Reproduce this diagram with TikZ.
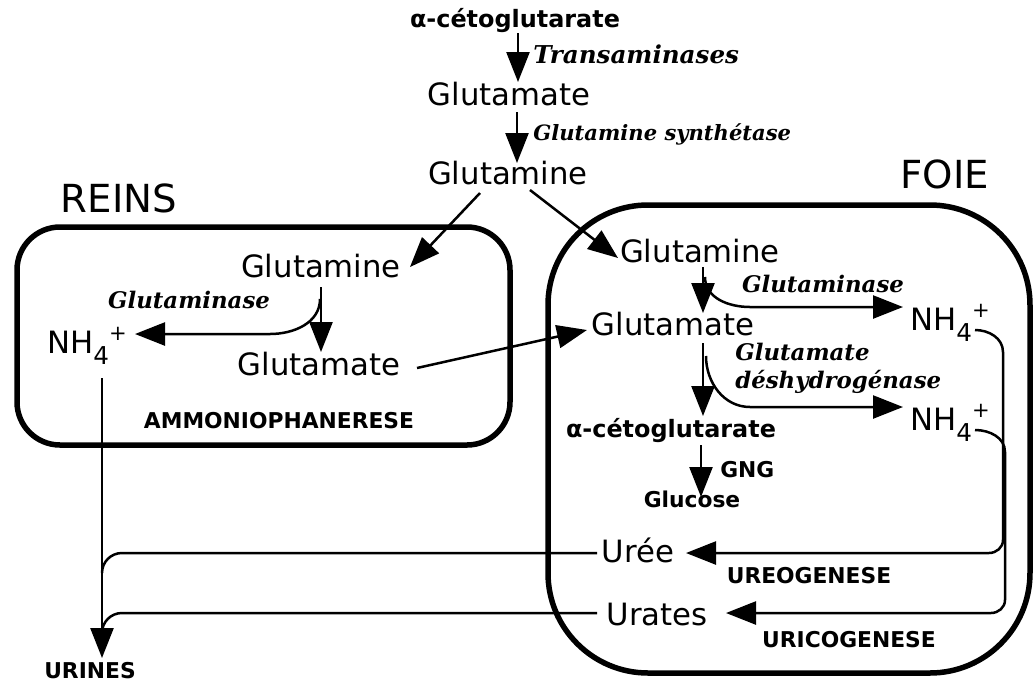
\documentclass[tikz,border=0pt]{standalone}
\usepackage{fontspec}
\usepackage{tikz}
\setmainfont{DejaVu Sans}
\newfontfamily\enzfont{DejaVu Serif}
\usetikzlibrary{arrows.meta,calc}
\newcommand{\nhq}{NH\raisebox{-6.5pt}{\fontsize{14}{14}\selectfont 4}\raisebox{7pt}{\fontsize{12}{12}\selectfont +}}

\begin{document}
\begin{tikzpicture}[x=0.2mm,y=-0.2mm,
		grand/.style={font=\fontsize{17.5}{20}\selectfont,inner sep=0pt,anchor=base},
		titre/.style={font=\fontsize{22}{26}\selectfont,inner sep=0pt,anchor=base},
		petit/.style={font=\bfseries\fontsize{12.4}{14}\selectfont,inner sep=0pt,anchor=base},
		akg/.style={petit,font=\bfseries\fontsize{13.6}{15}\selectfont},
		enz/.style={font=\enzfont\bfseries\itshape\fontsize{13}{15}\selectfont,inner sep=0pt,anchor=base west},
		fl/.style={line width=0.5mm,-{Triangle[length=6mm,width=4.6mm]}},
		trait/.style={line width=0.5mm},
		boite/.style={line width=1.1mm,rounded corners=#1}]
			\useasboundingbox (0,0) rectangle (1034,683);
			% foie general
			\node[akg] (akgT) at (515,27) {α-cétoglutarate};
			\node[enz,font=\enzfont\bfseries\itshape\fontsize{14}{16}\selectfont] (transam) at (533,63) {Transaminases};
			\node[grand] (gluT) at (509,105) {Glutamate};
			\node[enz,font=\enzfont\bfseries\itshape\fontsize{12}{14}\selectfont] (glnsyn) at (533,140) {Glutamine synthétase};
			\node[grand] (glnT) at (508,184) {Glutamine};
			\node[titre] (reins) at (119,212) {REINS};
			\node[titre] (foie) at (945,188) {FOIE};
			\draw[fl] ($(akgT.base)+(3,6)$) -- ($(gluT.base)+(9,-23)$);
			\draw[fl] ($(gluT.base)+(8,7)$) -- ($(glnT.base)+(9,-21)$);
			% reins
			\draw[boite=8.6mm] (17,227) rectangle (510,445);
			\node[grand] (glnL) at (321,277) {Glutamine};
			\node[enz,anchor=base] (glaseL) at (189,308) {Glutaminase};
			\node[grand,anchor=base west] (nhL) at (47,353) {\nhq};
			\node[grand] (gluL) at (319,375) {Glutamate};
			\node[petit] (ammo) at (279,428) {AMMONIOPHANERESE};
			\node[petit] (urines) at (90,678) {URINES};
			\draw[fl] ($(glnT.base)+(-28,9)$) -- ($(glnL.base)+(89,-10)$);
			\draw[fl] ($(glnL.base)+(0,10)$) -- ($(gluL.base)+(2,-23)$);
			\draw[fl] ($(glnL.base)+(-1,22)$) to[out=-90,in=0] ++(-50,35) -- ($(nhL.base west)+(88,-19)$);
			\draw[fl] ($(nhL.base west)+(55,25)$) -- ($(urines.base)+(12,-20)$);
			% foie
			\draw[boite=20mm] (548,205) rectangle (1030,673);
			\node[grand] (glnR) at (700,262) {Glutamine};
			\node[enz,anchor=base] (glaseR) at (823,292) {Glutaminase};
			\node[grand,anchor=base west] (nhA) at (910,330) {\nhq};
			\node[grand] (gluR) at (673,335) {Glutamate};
			\node[enz] (gdhA) at (735,360) {Glutamate};
			\node[enz] (gdhB) at (735,388) {déshydrogénase};
			\node[grand,anchor=base west] (nhB) at (910,430) {\nhq};
			\node[akg] (akgR) at (671,437) {α-cétoglutarate};
			\node[petit,anchor=base west] (gng) at (720,477) {GNG};
			\node[petit] (gluc) at (692,507) {Glucose};
			\node[grand] (uree) at (638,562) {Urée};
			\node[petit] (ureo) at (809,583) {UREOGENESE};
			\node[grand] (urates) at (657,625) {Urates};
			\node[petit] (urico) at (849,647) {URICOGENESE};
			\draw[fl] ($(glnT.base)+(22,6)$) -- ($(glnR.base)+(-82,-4)$);
			\draw[fl] ($(gluL.base)+(98,-7)$) -- ($(gluR.base)+(-86,-5)$);
			\draw[fl] ($(glnR.base)+(3,5)$) -- ($(gluR.base)+(30,-22)$);
			\draw[fl] ($(glnR.base)+(5,15)$) to[out=-90,in=180] ++(45,30) -- ($(nhA.base west)+(-7,-23)$);
			\draw[fl] ($(gluR.base)+(30,8)$) -- ($(akgR.base)+(32,-21)$);
			\draw[fl] ($(gluR.base)+(33,21)$) to[out=-90,in=180] ++(44,51) -- ($(nhB.base west)+(-7,-23)$);
			\draw[fl] ($(akgR.base)+(30,8)$) -- ($(gluc.base)+(9,-10)$);
			% uree, urates
			\draw[fl] ($(nhA.base west)+(65,0)$) to[out=0,in=90] ++(28,22) -- ++(0,188) to[out=-90,in=0] ++(-14,13) -- ($(uree.base)+(48,-9)$);
			\draw[fl] ($(nhB.base west)+(65,0)$) to[out=0,in=90] ++(30,22) -- ++(0,148) to[out=-90,in=0] ++(-14,13) -- ($(urates.base)+(69,-12)$);
			\draw[trait] ($(uree.base)+(-41,-9)$) -- ++(-475,0) to[out=180,in=90] ++(-20,20);
			\draw[trait] ($(urates.base)+(-60,-12)$) -- ++(-475,0) to[out=180,in=90] ++(-20,20);
		\end{tikzpicture}
\end{document}
